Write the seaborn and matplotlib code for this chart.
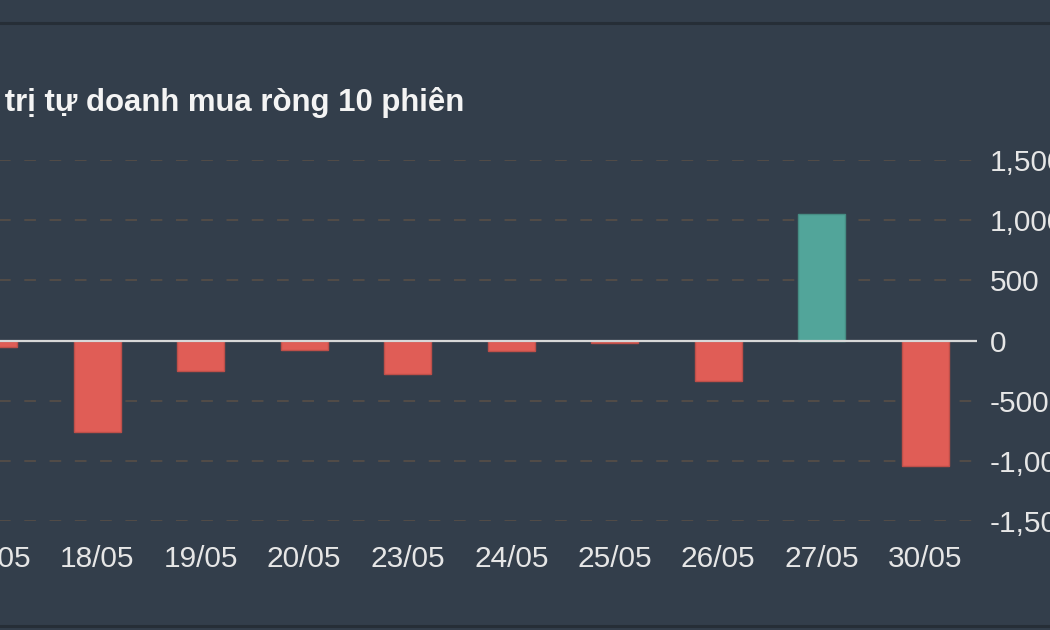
import matplotlib
matplotlib.use("Agg")
import matplotlib.pyplot as plt
from matplotlib.lines import Line2D
import seaborn as sns
import pandas as pd

dates = ["17/05", "18/05", "19/05", "20/05", "23/05", "24/05", "25/05", "26/05", "27/05", "30/05"]
values = [-55, -760, -255, -75, -276, -89, -17, -334, 1050, -1042]
yticks = [-1500, -1000, -500, 0, 500, 1000, 1500]
title = "Giá trị tự doanh mua ròng 10 phiên"

BG = "#333e4b"
RED = "#e05d56"
TEAL = "#52a59a"

sns.set_theme(style="dark")
plt.rcParams["font.family"] = ["Liberation Sans", "DejaVu Sans"]

df = pd.DataFrame({"date": dates, "value": values,
                   "sign": ["pos" if v >= 0 else "neg" for v in values]})

W, H = 1050, 630
fig = plt.figure(figsize=(W / 100, H / 100), dpi=100, facecolor=BG)
ax = fig.add_axes([-58 / W, 109 / H, 1035 / W, 361 / H])
ax.set_facecolor(BG)

sns.barplot(data=df, x="date", y="value", hue="sign",
            palette={"pos": TEAL, "neg": RED}, dodge=False, width=0.45,
            legend=False, ax=ax, zorder=3, saturation=1)
for p in ax.patches:
    fc = p.get_facecolor()
    p.set_edgecolor((fc[0] * 0.85, fc[1] * 0.85, fc[2] * 0.85, 1))
    p.set_linewidth(1.0)

ax.set_ylim(-1500, 1500)
ax.set_xlim(-0.5, len(dates) - 0.5)
for t in yticks:
    if t == 0:
        ax.axhline(0, color="#d8d8d8", lw=1.6, zorder=4)
    else:
        ax.axhline(t, color="#524c47", lw=1.4, dashes=(6, 7), zorder=1)

ax.yaxis.tick_right()
ax.set_yticks(yticks)
ax.set_yticklabels([f"{t:,}" for t in yticks])
ax.tick_params(axis="y", colors="#e6e6e6", labelsize=21.5, length=0, pad=9)
ax.tick_params(axis="x", colors="#e6e6e6", labelsize=21.5, length=0, pad=17)
ax.set_xlabel("")
ax.set_ylabel("")
for s in ax.spines.values():
    s.set_visible(False)
ax.grid(False)

fig.text(464 / W, 1 - 111 / H, title, ha="right", va="baseline",
         fontsize=22.4, fontweight="bold", color="#f4f4f4")

fig.add_artist(Line2D([0, 1], [1 - 22.5 / H, 1 - 22.5 / H], color="#262e37", lw=2.2,
                      transform=fig.transFigure))
fig.add_artist(Line2D([0, 1], [1 - 626 / H, 1 - 626 / H], color="#262e37", lw=2.2,
                      transform=fig.transFigure))

fig.savefig("out.png", dpi=100, facecolor=BG)
